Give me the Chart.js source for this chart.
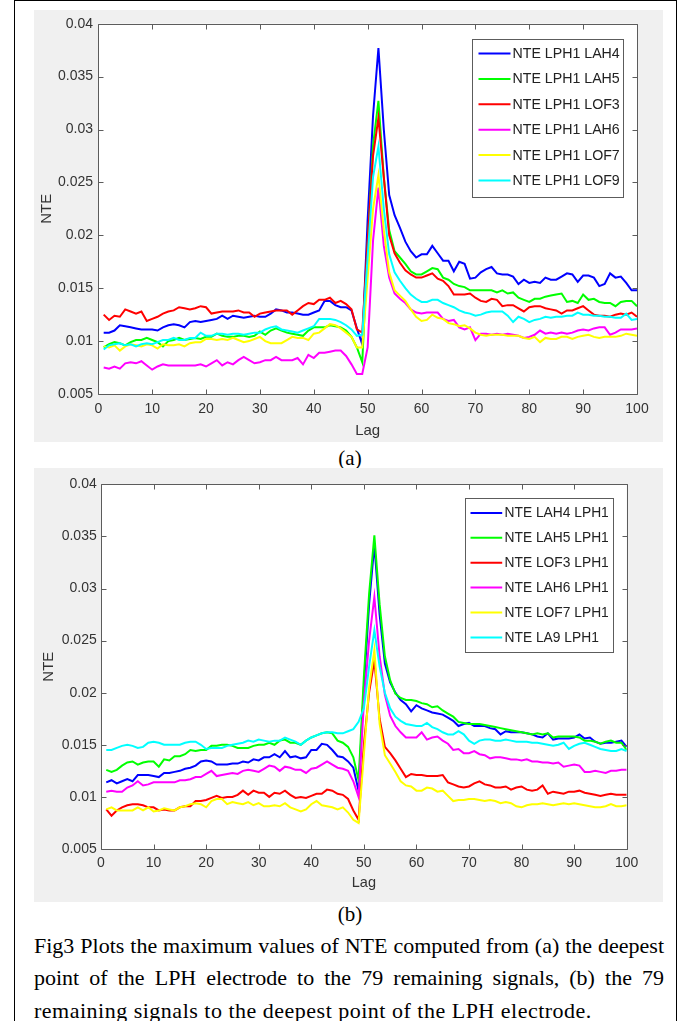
<!DOCTYPE html>
<html>
<head>
<meta charset="utf-8">
<script src="https://cdn.jsdelivr.net/npm/chart.js@4.4.1/dist/chart.umd.min.js"></script>
<style>
  html, body { margin: 0; padding: 0; background: #fff; }
  #page { position: relative; width: 690px; height: 1021px; overflow: hidden; }
  .frame { position: absolute; left: 14px; top: 0; width: 663px; height: 1060px; border: 1.5px solid #000; box-sizing: border-box; }
  .panel { position: absolute; left: 34px; width: 629px; background: #f0f0f0; }
  .panel canvas { position: absolute; left: 0; top: 0; }
  .sub { position: absolute; width: 60px; text-align: center; font-family: "Liberation Serif", "Times New Roman", serif; font-size: 21px; line-height: 24px; color: #000; }
  .cap { position: absolute; left: 34px; width: 630px; font-family: "Liberation Serif", "Times New Roman", serif; font-size: 22px; line-height: 24px; color: #000; white-space: nowrap; }
  .just { text-align: justify; text-align-last: justify; white-space: normal; }
</style>
</head>
<body>
<div id="page">
  <div class="frame"></div>
  <div class="panel" style="top:10px; height:432px;"><canvas id="chartA" width="629" height="432"></canvas></div>
  <div class="sub" style="left:320px; top:446px;">(a)</div>
  <div class="panel" style="top:468px; height:434px;"><canvas id="chartB" width="629" height="434"></canvas></div>
  <div class="sub" style="left:320px; top:902px;">(b)</div>
  <div class="cap just" style="top:934px;">Fig3 Plots the maximum values of NTE computed from (a) the deepest</div>
  <div class="cap just" style="top:966px;">point of the LPH electrode to the 79 remaining signals, (b) the 79</div>
  <div class="cap" style="top:999px; letter-spacing:0.5px;">remaining signals to the deepest point of the LPH electrode.</div>
</div>
<script>
// lag axis
const lags = [1, 2, 3, 4, 5, 6, 7, 8, 9, 10, 11, 12, 13, 14, 15, 16, 17, 18, 19, 20,
  21, 22, 23, 24, 25, 26, 27, 28, 29, 30, 31, 32, 33, 34, 35, 36, 37, 38, 39, 40,
  41, 42, 43, 44, 45, 46, 47, 48, 49, 50, 51, 52, 53, 54, 55, 56, 57, 58, 59, 60,
  61, 62, 63, 64, 65, 66, 67, 68, 69, 70, 71, 72, 73, 74, 75, 76, 77, 78, 79, 80,
  81, 82, 83, 84, 85, 86, 87, 88, 89, 90, 91, 92, 93, 94, 95, 96, 97, 98, 99, 100];

const xTicks = [0, 10, 20, 30, 40, 50, 60, 70, 80, 90, 100];
const xTickLabels = ["0", "10", "20", "30", "40", "50", "60", "70", "80", "90", "100"];
const yTicks = [0.005, 0.01, 0.015, 0.02, 0.025, 0.03, 0.035, 0.04];
const yTickLabels = ["0.005", "0.01", "0.015", "0.02", "0.025", "0.03", "0.035", "0.04"];

const colors = ["#0000ff", "#00ff00", "#ff0000", "#ff00ff", "#ffff00", "#00ffff"];

// (a) LPH1 -> others
const labelsA = ["NTE LPH1 LAH4", "NTE LPH1 LAH5", "NTE LPH1 LOF3", "NTE LPH1 LAH6", "NTE LPH1 LOF7", "NTE LPH1 LOF9"];

const a_LAH4 = [0.0108, 0.0108, 0.0110, 0.0115, 0.0114, 0.0113, 0.0112, 0.0111, 0.0111, 0.0111,
  0.0110, 0.0113, 0.0115, 0.0116, 0.0115, 0.0113, 0.0118, 0.0119, 0.0118, 0.0119,
  0.0120, 0.0121, 0.0124, 0.0121, 0.0124, 0.0123, 0.0122, 0.0123, 0.0124, 0.0123,
  0.0123, 0.0126, 0.0130, 0.0129, 0.0127, 0.0127, 0.0126, 0.0125, 0.0125, 0.0127,
  0.0129, 0.0138, 0.0138, 0.0134, 0.0132, 0.0132, 0.0129, 0.0112, 0.0097, 0.0215,
  0.0313, 0.0377, 0.0300, 0.0238, 0.0219, 0.0207, 0.0194, 0.0185, 0.0179, 0.0182,
  0.0182, 0.0190, 0.0183, 0.0176, 0.0176, 0.0166, 0.0175, 0.0173, 0.0159, 0.0160,
  0.0165, 0.0168, 0.0170, 0.0164, 0.0163, 0.0163, 0.0161, 0.0154, 0.0158, 0.0155,
  0.0156, 0.0155, 0.0160, 0.0158, 0.0158, 0.0161, 0.0164, 0.0163, 0.0156, 0.0162,
  0.0162, 0.0160, 0.0152, 0.0154, 0.0164, 0.0160, 0.0161, 0.0155, 0.0148, 0.0148];

const a_LAH5 = [0.0094, 0.0097, 0.0099, 0.0098, 0.0096, 0.0099, 0.0101, 0.0101, 0.0103, 0.0101,
  0.0099, 0.0095, 0.0100, 0.0101, 0.0103, 0.0101, 0.0102, 0.0103, 0.0102, 0.0104,
  0.0104, 0.0107, 0.0105, 0.0104, 0.0104, 0.0105, 0.0105, 0.0104, 0.0105, 0.0109,
  0.0106, 0.0110, 0.0112, 0.0110, 0.0108, 0.0107, 0.0106, 0.0105, 0.0110, 0.0113,
  0.0113, 0.0113, 0.0115, 0.0114, 0.0113, 0.0110, 0.0104, 0.0094, 0.0080, 0.0190,
  0.0285, 0.0327, 0.0255, 0.0205, 0.0185, 0.0179, 0.0173, 0.0166, 0.0163, 0.0163,
  0.0166, 0.0169, 0.0168, 0.0160, 0.0158, 0.0154, 0.0152, 0.0151, 0.0148, 0.0148,
  0.0148, 0.0148, 0.0148, 0.0146, 0.0148, 0.0145, 0.0146, 0.0141, 0.0139, 0.0137,
  0.0140, 0.0140, 0.0142, 0.0143, 0.0144, 0.0145, 0.0137, 0.0138, 0.0136, 0.0144,
  0.0139, 0.0140, 0.0137, 0.0136, 0.0136, 0.0133, 0.0137, 0.0138, 0.0138, 0.0133];

const a_LOF3 = [0.0125, 0.0120, 0.0124, 0.0123, 0.0130, 0.0128, 0.0126, 0.0128, 0.0119, 0.0121,
  0.0123, 0.0126, 0.0128, 0.0129, 0.0132, 0.0131, 0.0130, 0.0131, 0.0133, 0.0132,
  0.0126, 0.0127, 0.0128, 0.0128, 0.0128, 0.0129, 0.0127, 0.0127, 0.0123, 0.0126,
  0.0127, 0.0128, 0.0129, 0.0129, 0.0129, 0.0125, 0.0129, 0.0133, 0.0136, 0.0135,
  0.0139, 0.0139, 0.0141, 0.0136, 0.0138, 0.0135, 0.0130, 0.0111, 0.0108, 0.0195,
  0.0275, 0.0311, 0.0255, 0.0200, 0.0183, 0.0174, 0.0167, 0.0163, 0.0160, 0.0160,
  0.0162, 0.0164, 0.0159, 0.0157, 0.0152, 0.0144, 0.0144, 0.0144, 0.0145, 0.0141,
  0.0138, 0.0137, 0.0140, 0.0139, 0.0133, 0.0134, 0.0134, 0.0131, 0.0128, 0.0132,
  0.0133, 0.0133, 0.0131, 0.0130, 0.0129, 0.0126, 0.0129, 0.0129, 0.0131, 0.0133,
  0.0129, 0.0125, 0.0124, 0.0124, 0.0123, 0.0125, 0.0126, 0.0125, 0.0127, 0.0123];

const a_LAH6 = [0.0075, 0.0074, 0.0076, 0.0074, 0.0079, 0.0080, 0.0079, 0.0081, 0.0077, 0.0073,
  0.0076, 0.0078, 0.0077, 0.0077, 0.0077, 0.0077, 0.0077, 0.0077, 0.0078, 0.0076,
  0.0079, 0.0082, 0.0077, 0.0080, 0.0078, 0.0082, 0.0085, 0.0082, 0.0079, 0.0080,
  0.0082, 0.0082, 0.0085, 0.0082, 0.0082, 0.0082, 0.0084, 0.0078, 0.0087, 0.0084,
  0.0089, 0.0089, 0.0090, 0.0091, 0.0091, 0.0086, 0.0078, 0.0069, 0.0069, 0.0094,
  0.0195, 0.0245, 0.0190, 0.0160, 0.0145, 0.0140, 0.0136, 0.0130, 0.0127, 0.0126,
  0.0127, 0.0127, 0.0127, 0.0121, 0.0119, 0.0120, 0.0113, 0.0111, 0.0113, 0.0101,
  0.0107, 0.0107, 0.0106, 0.0107, 0.0106, 0.0107, 0.0106, 0.0105, 0.0103, 0.0104,
  0.0106, 0.0110, 0.0107, 0.0108, 0.0107, 0.0108, 0.0107, 0.0108, 0.0110, 0.0111,
  0.0110, 0.0112, 0.0113, 0.0113, 0.0106, 0.0108, 0.0111, 0.0111, 0.0111, 0.0112];

const a_LOF7 = [0.0095, 0.0094, 0.0096, 0.0091, 0.0095, 0.0097, 0.0096, 0.0095, 0.0097, 0.0096,
  0.0093, 0.0097, 0.0096, 0.0096, 0.0097, 0.0095, 0.0098, 0.0099, 0.0099, 0.0102,
  0.0102, 0.0101, 0.0102, 0.0101, 0.0103, 0.0101, 0.0099, 0.0100, 0.0102, 0.0104,
  0.0100, 0.0098, 0.0098, 0.0098, 0.0101, 0.0104, 0.0103, 0.0103, 0.0101, 0.0107,
  0.0108, 0.0112, 0.0116, 0.0115, 0.0112, 0.0108, 0.0104, 0.0094, 0.0094, 0.0160,
  0.0225, 0.0257, 0.0205, 0.0165, 0.0148, 0.0143, 0.0138, 0.0130, 0.0123, 0.0119,
  0.0120, 0.0125, 0.0122, 0.0121, 0.0117, 0.0116, 0.0114, 0.0115, 0.0112, 0.0108,
  0.0106, 0.0105, 0.0106, 0.0106, 0.0106, 0.0105, 0.0105, 0.0105, 0.0103, 0.0102,
  0.0104, 0.0099, 0.0103, 0.0102, 0.0102, 0.0104, 0.0104, 0.0102, 0.0104, 0.0105,
  0.0106, 0.0104, 0.0103, 0.0104, 0.0104, 0.0104, 0.0105, 0.0107, 0.0106, 0.0105];

const a_LOF9 = [0.0092, 0.0096, 0.0097, 0.0098, 0.0096, 0.0097, 0.0095, 0.0097, 0.0098, 0.0097,
  0.0099, 0.0101, 0.0101, 0.0103, 0.0101, 0.0101, 0.0103, 0.0103, 0.0108, 0.0105,
  0.0105, 0.0107, 0.0107, 0.0106, 0.0107, 0.0107, 0.0106, 0.0107, 0.0108, 0.0108,
  0.0111, 0.0113, 0.0114, 0.0111, 0.0110, 0.0109, 0.0108, 0.0110, 0.0112, 0.0114,
  0.0121, 0.0121, 0.0121, 0.0120, 0.0118, 0.0115, 0.0111, 0.0105, 0.0106, 0.0180,
  0.0255, 0.0284, 0.0225, 0.0182, 0.0165, 0.0157, 0.0150, 0.0144, 0.0140, 0.0137,
  0.0137, 0.0139, 0.0139, 0.0136, 0.0134, 0.0132, 0.0129, 0.0127, 0.0126, 0.0124,
  0.0125, 0.0127, 0.0128, 0.0128, 0.0128, 0.0124, 0.0118, 0.0123, 0.0121, 0.0118,
  0.0120, 0.0121, 0.0123, 0.0122, 0.0123, 0.0123, 0.0124, 0.0124, 0.0127, 0.0125,
  0.0125, 0.0124, 0.0124, 0.0123, 0.0123, 0.0122, 0.0122, 0.0126, 0.0120, 0.0121];

// (b) others -> LPH1
const labelsB = ["NTE LAH4 LPH1", "NTE LAH5 LPH1", "NTE LOF3 LPH1", "NTE LAH6 LPH1", "NTE LOF7 LPH1", "NTE LA9 LPH1"];

const b_LAH4 = [0.0114, 0.0116, 0.0113, 0.0115, 0.0117, 0.0115, 0.0121, 0.0121, 0.0121, 0.0120,
  0.0119, 0.0123, 0.0123, 0.0124, 0.0125, 0.0127, 0.0128, 0.0130, 0.0134, 0.0135,
  0.0134, 0.0131, 0.0131, 0.0131, 0.0132, 0.0132, 0.0134, 0.0133, 0.0136, 0.0135,
  0.0138, 0.0138, 0.0141, 0.0138, 0.0144, 0.0138, 0.0139, 0.0137, 0.0138, 0.0145,
  0.0145, 0.0151, 0.0150, 0.0145, 0.0139, 0.0138, 0.0134, 0.0128, 0.0106, 0.0205,
  0.0285, 0.0342, 0.0275, 0.0228, 0.0210, 0.0200, 0.0193, 0.0189, 0.0182, 0.0188,
  0.0185, 0.0183, 0.0181, 0.0180, 0.0179, 0.0176, 0.0173, 0.0168, 0.0170, 0.0171,
  0.0168, 0.0168, 0.0168, 0.0166, 0.0165, 0.0160, 0.0163, 0.0162, 0.0162, 0.0162,
  0.0161, 0.0160, 0.0158, 0.0157, 0.0161, 0.0155, 0.0156, 0.0156, 0.0156, 0.0157,
  0.0160, 0.0156, 0.0157, 0.0153, 0.0151, 0.0152, 0.0152, 0.0153, 0.0154, 0.0148];

const b_LAH5 = [0.0126, 0.0124, 0.0126, 0.0130, 0.0133, 0.0134, 0.0131, 0.0133, 0.0134, 0.0134,
  0.0129, 0.0136, 0.0135, 0.0139, 0.0139, 0.0141, 0.0145, 0.0144, 0.0145, 0.0145,
  0.0149, 0.0149, 0.0150, 0.0150, 0.0149, 0.0147, 0.0147, 0.0147, 0.0149, 0.0150,
  0.0150, 0.0152, 0.0150, 0.0154, 0.0155, 0.0152, 0.0152, 0.0150, 0.0154, 0.0157,
  0.0159, 0.0161, 0.0162, 0.0161, 0.0154, 0.0152, 0.0148, 0.0138, 0.0116, 0.0215,
  0.0295, 0.0351, 0.0285, 0.0235, 0.0212, 0.0199, 0.0195, 0.0193, 0.0193, 0.0192,
  0.0190, 0.0189, 0.0186, 0.0187, 0.0183, 0.0180, 0.0177, 0.0172, 0.0171, 0.0170,
  0.0170, 0.0170, 0.0169, 0.0168, 0.0167, 0.0166, 0.0165, 0.0164, 0.0163, 0.0162,
  0.0161, 0.0160, 0.0161, 0.0160, 0.0161, 0.0157, 0.0158, 0.0158, 0.0158, 0.0158,
  0.0157, 0.0154, 0.0154, 0.0153, 0.0151, 0.0153, 0.0154, 0.0152, 0.0152, 0.0145];

const b_LOF3 = [0.0088, 0.0082, 0.0087, 0.0090, 0.0092, 0.0093, 0.0093, 0.0092, 0.0090, 0.0090,
  0.0087, 0.0088, 0.0087, 0.0087, 0.0090, 0.0091, 0.0091, 0.0096, 0.0096, 0.0097,
  0.0099, 0.0101, 0.0099, 0.0100, 0.0100, 0.0102, 0.0106, 0.0102, 0.0106, 0.0104,
  0.0104, 0.0100, 0.0104, 0.0103, 0.0106, 0.0102, 0.0099, 0.0100, 0.0099, 0.0101,
  0.0103, 0.0103, 0.0107, 0.0106, 0.0103, 0.0102, 0.0098, 0.0087, 0.0078, 0.0150,
  0.0200, 0.0231, 0.0175, 0.0148, 0.0142, 0.0135, 0.0127, 0.0119, 0.0122, 0.0121,
  0.0121, 0.0120, 0.0120, 0.0120, 0.0121, 0.0114, 0.0112, 0.0110, 0.0109, 0.0110,
  0.0113, 0.0115, 0.0112, 0.0111, 0.0109, 0.0109, 0.0110, 0.0107, 0.0109, 0.0110,
  0.0107, 0.0106, 0.0107, 0.0111, 0.0103, 0.0105, 0.0104, 0.0103, 0.0105, 0.0105,
  0.0106, 0.0104, 0.0103, 0.0102, 0.0101, 0.0102, 0.0103, 0.0102, 0.0102, 0.0102];

const b_LAH6 = [0.0105, 0.0106, 0.0105, 0.0105, 0.0109, 0.0111, 0.0115, 0.0111, 0.0112, 0.0114,
  0.0114, 0.0114, 0.0114, 0.0114, 0.0116, 0.0116, 0.0117, 0.0119, 0.0119, 0.0122,
  0.0125, 0.0120, 0.0121, 0.0122, 0.0123, 0.0122, 0.0125, 0.0126, 0.0125, 0.0124,
  0.0127, 0.0130, 0.0129, 0.0125, 0.0129, 0.0128, 0.0126, 0.0126, 0.0123, 0.0127,
  0.0128, 0.0131, 0.0134, 0.0131, 0.0128, 0.0127, 0.0125, 0.0115, 0.0100, 0.0190,
  0.0250, 0.0292, 0.0235, 0.0198, 0.0178, 0.0168, 0.0162, 0.0157, 0.0157, 0.0157,
  0.0162, 0.0155, 0.0157, 0.0158, 0.0154, 0.0151, 0.0145, 0.0146, 0.0142, 0.0142,
  0.0144, 0.0141, 0.0140, 0.0137, 0.0138, 0.0138, 0.0137, 0.0136, 0.0136, 0.0135,
  0.0136, 0.0134, 0.0134, 0.0133, 0.0133, 0.0132, 0.0133, 0.0129, 0.0130, 0.0131,
  0.0130, 0.0124, 0.0124, 0.0125, 0.0124, 0.0123, 0.0125, 0.0125, 0.0126, 0.0126];

const b_LOF7 = [0.0088, 0.0090, 0.0087, 0.0087, 0.0087, 0.0087, 0.0090, 0.0087, 0.0090, 0.0086,
  0.0087, 0.0089, 0.0088, 0.0087, 0.0090, 0.0091, 0.0093, 0.0094, 0.0093, 0.0090,
  0.0096, 0.0098, 0.0098, 0.0093, 0.0095, 0.0094, 0.0093, 0.0095, 0.0092, 0.0094,
  0.0091, 0.0091, 0.0092, 0.0091, 0.0094, 0.0090, 0.0088, 0.0086, 0.0088, 0.0093,
  0.0096, 0.0092, 0.0091, 0.0090, 0.0088, 0.0090, 0.0085, 0.0078, 0.0075, 0.0140,
  0.0205, 0.0241, 0.0170, 0.0140, 0.0132, 0.0124, 0.0115, 0.0111, 0.0110, 0.0106,
  0.0106, 0.0109, 0.0108, 0.0105, 0.0106, 0.0101, 0.0096, 0.0097, 0.0097, 0.0098,
  0.0098, 0.0097, 0.0096, 0.0097, 0.0096, 0.0094, 0.0095, 0.0094, 0.0091, 0.0090,
  0.0092, 0.0093, 0.0093, 0.0094, 0.0093, 0.0092, 0.0093, 0.0094, 0.0093, 0.0094,
  0.0093, 0.0092, 0.0091, 0.0090, 0.0090, 0.0091, 0.0093, 0.0091, 0.0091, 0.0092];

const b_LA9 = [0.0145, 0.0145, 0.0147, 0.0149, 0.0150, 0.0149, 0.0147, 0.0148, 0.0152, 0.0153,
  0.0152, 0.0150, 0.0150, 0.0150, 0.0150, 0.0152, 0.0153, 0.0153, 0.0150, 0.0146,
  0.0147, 0.0147, 0.0147, 0.0149, 0.0150, 0.0151, 0.0152, 0.0154, 0.0153, 0.0155,
  0.0154, 0.0153, 0.0154, 0.0154, 0.0157, 0.0155, 0.0153, 0.0150, 0.0154, 0.0157,
  0.0159, 0.0161, 0.0162, 0.0162, 0.0161, 0.0161, 0.0163, 0.0165, 0.0172, 0.0185,
  0.0225, 0.0260, 0.0225, 0.0200, 0.0185, 0.0177, 0.0173, 0.0170, 0.0169, 0.0168,
  0.0168, 0.0171, 0.0167, 0.0165, 0.0162, 0.0160, 0.0160, 0.0163, 0.0160, 0.0154,
  0.0151, 0.0154, 0.0155, 0.0155, 0.0154, 0.0154, 0.0155, 0.0154, 0.0153, 0.0153,
  0.0153, 0.0152, 0.0152, 0.0151, 0.0150, 0.0149, 0.0150, 0.0152, 0.0146, 0.0149,
  0.0151, 0.0152, 0.0150, 0.0148, 0.0146, 0.0145, 0.0144, 0.0144, 0.0146, 0.0144];

const seriesA = [a_LAH4, a_LAH5, a_LOF3, a_LAH6, a_LOF7, a_LOF9];
const seriesB = [b_LAH4, b_LAH5, b_LOF3, b_LAH6, b_LOF7, b_LA9];

const sansFont = '"Liberation Sans", Arial, Helvetica, sans-serif';
const axisColor = "#5c5c5c";
const textColor = "#333333";

// matlab style box, inward ticks, white axes background and boxed legend
const matlabAxes = {
  id: "matlabAxes",
  beforeDraw(chart) {
    const { ctx, chartArea: ca } = chart;
    ctx.save();
    ctx.fillStyle = "#ffffff";
    ctx.fillRect(ca.left, ca.top, ca.right - ca.left, ca.bottom - ca.top);
    ctx.restore();
  },
  afterDraw(chart, args, opts) {
    const { ctx, chartArea: ca } = chart;
    const xs = chart.scales.x;
    const ys = chart.scales.y;
    const L = Math.round(ca.left) + 0.5, R = Math.round(ca.right) + 0.5;
    const T = Math.round(ca.top) + 0.5, B = Math.round(ca.bottom) + 0.5;
    ctx.save();
    ctx.strokeStyle = axisColor;
    ctx.lineWidth = 1;
    ctx.beginPath();
    ctx.rect(L, T, R - L, B - T);
    xs.ticks.forEach(t => {
      const px = Math.round(xs.getPixelForValue(t.value)) + 0.5;
      ctx.moveTo(px, B); ctx.lineTo(px, B - 5);
      ctx.moveTo(px, T); ctx.lineTo(px, T + 5);
    });
    ys.ticks.forEach(t => {
      const py = Math.round(ys.getPixelForValue(t.value)) + 0.5;
      ctx.moveTo(L, py); ctx.lineTo(L + 5, py);
      ctx.moveTo(R, py); ctx.lineTo(R - 5, py);
    });
    ctx.stroke();

    // legend box
    const bw = opts.w, bh = opts.h;
    const bx = Math.round(ca.right - opts.right - bw) + 0.5;
    const by = Math.round(ca.top + opts.top) + 0.5;
    ctx.fillStyle = "#ffffff";
    ctx.fillRect(bx, by, bw, bh);
    ctx.strokeStyle = axisColor;
    ctx.strokeRect(bx, by, bw, bh);
    ctx.font = opts.fontSize + "px " + sansFont;
    ctx.textBaseline = "middle";
    ctx.textAlign = "left";
    chart.data.datasets.forEach((ds, i) => {
      const cy = by + opts.row0 + i * opts.rowStep;
      ctx.strokeStyle = ds.borderColor;
      ctx.lineWidth = 2;
      ctx.beginPath();
      ctx.moveTo(bx + opts.line0, cy);
      ctx.lineTo(bx + opts.line1, cy);
      ctx.stroke();
      ctx.fillStyle = "#222222";
      ctx.fillText(ds.label, bx + opts.textX, cy + 0.5);
    });
    ctx.restore();
  }
};

function makeChart(id, labels, series, cfg) {
  return new Chart(document.getElementById(id), {
    type: "line",
    data: {
      datasets: series.map((vals, i) => ({
        label: labels[i],
        data: lags.map((x, k) => ({ x: x, y: vals[k] })),
        borderColor: colors[i],
        backgroundColor: colors[i],
        borderWidth: 2,
        pointRadius: 0,
        tension: 0,
        fill: false,
        order: series.length - i
      }))
    },
    options: {
      responsive: false,
      animation: false,
      events: [],
      layout: { padding: cfg.padding },
      plugins: {
        legend: { display: false },
        tooltip: { enabled: false },
        matlabAxes: cfg.legend
      },
      scales: {
        x: {
          type: "linear",
          min: 0,
          max: 100,
          afterBuildTicks: s => { s.ticks = xTicks.map(v => ({ value: v })); },
          afterFit: s => { s.height = cfg.xHeight; },
          grid: { display: false, drawTicks: false, tickLength: 0 },
          border: { display: false },
          ticks: {
            autoSkip: false,
            maxRotation: 0,
            padding: cfg.xTickPad,
            color: textColor,
            font: { family: sansFont, size: 14 },
            callback: (v, i) => xTickLabels[i]
          },
          title: {
            display: true,
            text: "Lag",
            color: textColor,
            font: { family: sansFont, size: cfg.titleSize },
            padding: { top: 0, bottom: cfg.xTitlePad }
          }
        },
        y: {
          type: "linear",
          min: 0.005,
          max: 0.04,
          afterBuildTicks: s => { s.ticks = yTicks.map(v => ({ value: v })); },
          afterFit: s => { s.width = cfg.yWidth; },
          grid: { display: false, drawTicks: false, tickLength: 0 },
          border: { display: false },
          ticks: {
            padding: cfg.yTickPad,
            color: textColor,
            font: { family: sansFont, size: 14 },
            callback: (v, i) => yTickLabels[i]
          },
          title: {
            display: true,
            text: "NTE",
            color: textColor,
            font: { family: sansFont, size: 15 },
            padding: { top: cfg.yTitlePad, bottom: 0 }
          }
        }
      }
    },
    plugins: [matlabAxes]
  });
}

makeChart("chartA", labelsA, seriesA, {
  padding: { top: 10, right: 26, bottom: 0, left: 0 },
  xHeight: 48, yWidth: 64.3,
  xTickPad: 6.6, yTickPad: 5.3,
  xTitlePad: 2, yTitlePad: 4, titleSize: 15,
  legend: { w: 151, h: 158, right: 14, top: 15, row0: 14, rowStep: 25.4, line0: 6, line1: 38, textX: 40, fontSize: 14.2 }
});

makeChart("chartB", labelsB, seriesB, {
  padding: { top: 16.3, right: 36.3, bottom: 0, left: 0 },
  xHeight: 53, yWidth: 67,
  xTickPad: 5.9, yTickPad: 4.3,
  xTitlePad: 10, yTitlePad: 6, titleSize: 14.5,
  legend: { w: 148, h: 154, right: 13.4, top: 14, row0: 14.4, rowStep: 24.9, line0: 5, line1: 36.7, textX: 39, fontSize: 13.8 }
});
</script>
</body>
</html>
